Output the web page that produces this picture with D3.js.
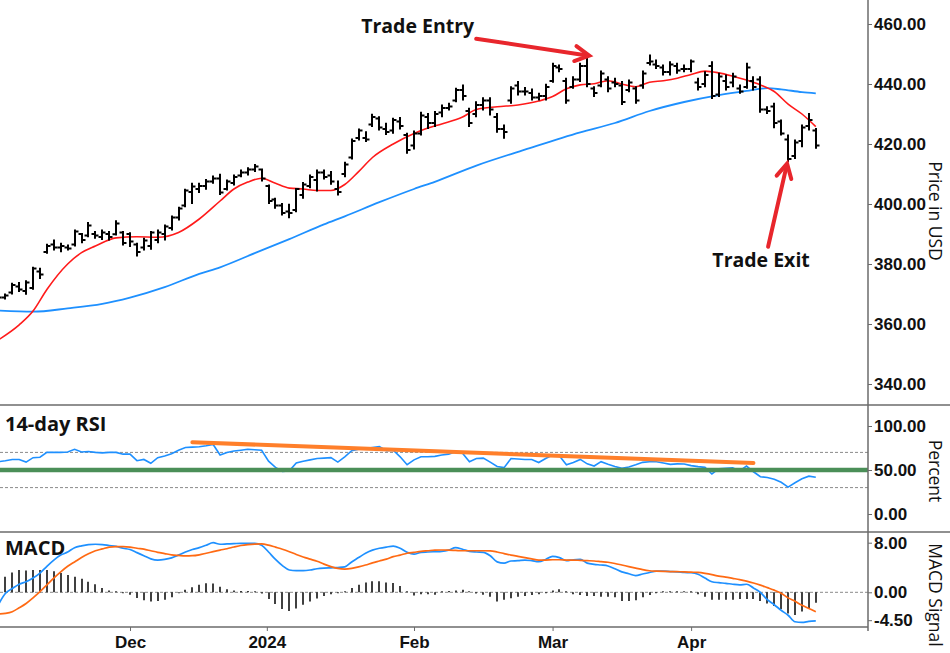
<!DOCTYPE html>
<html><head><meta charset="utf-8">
<script src="https://cdn.jsdelivr.net/npm/d3@7"></script>
<style>
html,body{margin:0;padding:0;background:#fff;}
svg{display:block;}
</style></head><body>
<svg id="chart" width="950" height="653"></svg>
<script>
// ---------- DATA ----------
const monthTicks = [19, 38.75, 60, 80, 100];
const monthLabels = ["Dec", "2024", "Feb", "Mar", "Apr"];
const priceTicks = [340, 360, 380, 400, 420, 440, 460];
const rsiTicks = [0, 50, 100];
const macdTicks = [-4.5, 0, 8];

const open = [368,368.8,370.5,372.5,371,372,377.5,384,386.5,385.5,
385.5,386.5,390,389.5,390,389,390,389.9,390.5,390,
386.5,385.5,386,388,390,392,395.5,399.5,404,405,
406,407.5,408.5,405,407,409.5,410.5,411.5,411.5,406,
401.5,399.5,397.5,398,403,406,408,410.5,409.5,405,
410,415.5,422,422,426.5,428.5,425,424.5,427.5,423,
419.5,423.5,429,427,430.5,432,434.5,438,431,430,
433,434.5,429,425,434.5,439.5,437.5,437,435.5,436,
441,445.5,441,439,441.5,446,438.5,439.5,441.5,440.5,
439.5,438,438.5,439.5,447,446.5,445.5,444,446,445,
445,440.5,440,446,436.5,441,440.5,438.5,439,441,
441.5,431.5,432.5,427.5,421.5,416,421,426,424.5];
const close = [368.8,369.5,373,371.5,373.8,378.5,376.5,386,385.5,386,
385.2,390.8,388,392.8,389.5,390.5,389,393.5,387,387.5,
384,387.8,390.5,390.5,392.5,395.5,398.5,404.5,405.8,406,
407.5,408.5,403.8,407.5,409,410.5,411.5,412.5,408.5,401,
399.5,397,397,405,406.5,409,410.5,409,407.5,404,
413.2,421,424.5,421.5,429,425.5,424,428,426,418,
423.5,429.5,427,430,432,432.5,438,436,427,433,
434.5,431.5,425,424,438.5,437.5,437.5,435.5,436,439,
446,445,434.5,441.5,446,440,437,443.5,438.5,440,
434,440.5,434.5,443.5,447.5,446,444,446.5,444.5,445,
447.5,439,443,436,442.5,439,442.5,437.5,445.5,439,
431.5,431,427,423.5,415,420.5,425.5,428,419.5];
const high = [369.1,370,373.6,373.8,374.4,378.9,378.6,386.6,388,386.9,
386.3,391.3,390.2,393.8,390.8,391.3,390.8,394.4,390.8,390.4,
386.9,388.6,390.8,391.3,393,396,398.9,404.9,406.9,406.9,
408.2,409.3,409.9,408,409.7,411.3,412.1,413.2,411.7,406.3,
401.9,400.2,399.9,405.2,407.2,409.7,411.3,411.3,410.8,407.7,
413.9,421.7,425,424.1,429.9,429.1,426.9,428.6,428.8,423.6,
424.3,430.6,430.2,430.8,433,433.6,438.6,439.7,431.9,434.1,
435.4,435.4,430.2,426.3,439.1,440.8,438.8,438.3,436.9,439.9,
446.9,446.3,441.9,442.4,446.9,449.1,439.1,444.3,442.4,441.9,
440.8,441.3,439.1,444.3,449.7,448,446.3,447.4,446.9,446.3,
448,441.9,444.1,447.4,443.6,443,443.6,439.7,446.9,442.4,
442.4,432.4,433.6,428,423,421.3,426.3,430.2,425.2];
const low = [367.4,368.3,370,370.8,369.9,371.6,375.2,383.6,384.7,384.1,
384.7,386,387.1,389.1,388.6,388.2,388,389.7,386.3,385.8,
382.7,384.7,384.9,387.1,388,391.3,394.7,399.1,400.2,403.8,
404.9,406.9,403.2,404.7,406.3,409.1,409.7,410.8,407.7,400.2,
398.6,396.3,395.4,397.4,401.9,405.4,404.3,408.3,406.6,403,
409.1,415,421.3,420.8,425.8,424.7,423.2,423.6,425,416.9,
418.3,423,425.2,425.8,429.1,431.3,434.1,434.7,425.8,429.1,
431.3,429.7,423.9,421.9,433.6,436.3,436.3,434.7,434.7,434.7,
440.6,444.1,433.6,438.6,440.8,439.1,435.8,439.1,437.4,439.1,
433.2,437.4,433.6,438.6,446.3,445.2,443,443,443.6,444.1,
444.1,438,439.1,435.2,435.8,438,439.1,436.9,438.6,438,
430.6,430.2,425.4,423,414.1,415.2,419.1,424.7,418.6];

// moving averages (read at sampled bar indices)
const smaFastIdx = [0,3,5,7,10,12,14,17,20,23,26,29,32,34,36,38,40,42,44,46,48,50,52,54,57,60,62,64,67,69,72,75,78,80,82,84,86,88,90,92,94,96,98,100,102,104,106,108,110,112,114,116,118];
const smaFast = [354.7,359.7,364.3,371.5,380,383.8,386,388.7,389.1,388.9,390.5,395,401,405,407.3,408.6,406.9,405.3,405,404.5,404.5,406.5,410.8,415.5,420,423.5,425.3,426.7,429,431.5,432.4,433,434.3,435.8,438.4,439.7,440.1,441.1,440,439.1,440.6,441.1,441.9,443.2,444.3,443.7,442.6,441.3,439.7,437.5,433.3,430,425.8];
const smaSlowIdx = [0,5,10,15,19,24,29,32,37,42,47,50,55,60,63,69,76,84,89,94,99,104,108,111,113,116,118];
const smaSlow = [364.5,364.1,365.2,366.7,368.8,372.3,376.7,378.9,383.6,388.3,393.2,395.9,400.6,405,407.4,412.8,418.1,423.9,427,431,434,436.3,437.7,438.6,438.2,437.3,436.9];

const rsi = [59.5,60.5,62,62,59,64,64.5,70,70,70,
70.5,73.5,70.5,71,70,69.5,70,70,68,68,
60.6,62,57.6,64,66,68.5,72.5,75.5,76,76.5,
77.5,79,67,70,71.5,72.5,73.5,73,72.5,60,
53,48.5,49,58,60,61.5,63,63.5,64,59,
65,72,73.5,74.5,75.5,76.5,72,72.5,65,56,
61.5,65,65,65.5,67,68,70.8,69,59.4,63,
63.5,59,54,52.7,63,62.5,62,62,58.5,63,
67,66,56,58.5,62,57,54.5,59.5,56.5,54,
52,53.5,56,58.7,59.4,59.4,58,56.4,57,56.8,
55,53.8,53,45.5,51.5,52,52.5,49,54.5,48,
42.4,41.5,39.5,36,30.5,35.5,40,43,41.7];
const rsiBands = [30, 70];
const rsiSupport = 50;
const rsiTrendIdx = [28, 109];
const rsiTrend = [81.5, 58];

const macd = [-2.0,-0.2,0.6,1.3,1.7,2.3,3.1,4.2,5.2,6.0,
6.5,7.2,7.5,7.7,7.75,7.7,7.55,7.4,7.1,6.9,
6.4,5.9,5.4,5.2,5.3,5.55,6.0,6.5,6.9,7.2,
7.6,8.0,7.75,7.8,7.85,7.9,7.9,7.9,7.6,6.5,
5.3,4.3,3.6,3.5,3.5,3.6,3.8,3.9,3.95,4.0,
4.1,4.9,5.6,6.3,6.8,7.1,7.3,7.45,7.1,6.45,
6.15,6.45,6.5,6.55,6.6,6.8,7.2,6.95,6.6,6.5,
6.45,5.9,4.9,4.7,5.05,5.1,5.2,5.1,4.95,5.3,
5.8,5.6,5.1,5.25,5.3,4.7,4.5,4.4,4.25,3.8,
3.3,3.0,2.7,2.95,3.2,3.4,3.4,3.35,3.3,3.2,
3.15,2.9,2.3,1.7,1.55,1.45,1.3,1.2,1.3,0.7,
0.0,-1.2,-2.0,-2.9,-3.7,-4.75,-4.85,-4.7,-4.6];
const signal = [-3.5,-3.4,-3.13,-2.5,-1.8,-0.9,0.1,1.2,2.3,3.3,
4.2,4.9,5.6,6.2,6.7,7.0,7.3,7.38,7.38,7.3,
7.1,6.95,6.7,6.45,6.25,6.05,5.95,5.87,5.9,6.05,
6.3,6.55,6.8,7.03,7.3,7.55,7.7,7.78,7.8,7.6,
7.28,6.95,6.55,6.1,5.7,5.35,5.0,4.55,4.15,3.85,
3.75,3.85,4.1,4.4,4.75,5.05,5.35,5.75,6.0,6.3,
6.45,6.6,6.7,6.8,6.82,6.8,6.75,6.7,6.7,6.7,
6.7,6.68,6.5,6.25,6.0,5.8,5.6,5.4,5.2,5.2,
5.25,5.25,5.2,5.2,5.15,5.1,5.05,4.95,4.85,4.65,
4.4,4.15,3.9,3.65,3.48,3.42,3.38,3.35,3.32,3.3,
3.25,3.2,3.05,2.85,2.6,2.45,2.25,2.05,1.8,1.5,
1.15,0.75,0.35,-0.15,-0.9,-1.45,-2.1,-2.6,-3.13];
const hist = [1.8,2.5,3.2,3.6,3.5,3.6,3.6,3.6,3.4,3.1,
2.8,2.5,2.2,1.7,1.3,0.7,0.3,0.05,-0.15,-0.4,
-0.9,-1.3,-1.5,-1.4,-1.2,-0.8,-0.1,0.4,0.8,1.2,
1.45,1.4,0.9,0.5,0.3,0.2,0.2,0.1,-0.2,-1.1,
-1.9,-2.7,-3.0,-2.6,-2.0,-1.5,-1.0,-0.6,-0.3,-0.1,
0.1,0.7,1.2,1.6,1.8,1.8,1.6,1.5,1.0,0.1,
-0.5,-0.3,-0.3,-0.4,0.1,0.2,0.3,0.4,0.1,-0.2,
-0.4,-0.7,-1.5,-1.2,-0.95,-0.7,-0.6,-0.45,-0.3,-0.15,
0.3,0.5,0.1,-0.3,-0.45,-0.6,-0.6,-0.7,-0.7,-0.8,
-1.4,-1.4,-1.3,-0.8,-0.45,-0.1,0,0,0.1,0,
0,-0.3,-0.7,-1.2,-1.2,-1.2,-1.2,-1.1,-1.1,-1.1,
-1.4,-1.8,-2.2,-2.7,-3.4,-3.65,-3.1,-2.6,-1.7];

const entryIdx = 85, exitIdx = 114;

// ---------- LAYOUT ----------
const R = 868;
const svg = d3.select("#chart");
const x = d3.scaleLinear().domain([0, 118]).range([-1.6, 815.8]);
const yP = d3.scaleLinear().domain([340, 460]).range([384, 24]);
const yR = d3.scaleLinear().domain([0, 100]).range([514, 426]);
const yM = d3.scaleLinear().domain([0, 8]).range([592.3, 542.7]);
const loc = d3.formatLocale({decimal: ".", thousands: ",", grouping: [3], currency: ["$", ""], minus: "-"});
const f2 = loc.format(".2f");

const defs = svg.append("defs");
[["cp", 0, 405], ["cr", 405, 532], ["cm", 532, 627]].forEach(([id, a, b]) => {
  defs.append("clipPath").attr("id", id).append("rect").attr("x", 0).attr("y", a).attr("width", R).attr("height", b - a);
});

const BLUE = "#1e90ff", RED = "#ff1a1a", ORANGE = "#ff6a13", ARROW = "#e8262c";

// ---------- PRICE PANEL ----------
const gp = svg.append("g").attr("clip-path", "url(#cp)");
const lineIdx = (ys) => d3.line().x(d => x(d[0])).y(d => ys(d[1])).curve(d3.curveMonotoneX);
gp.append("path").datum(smaSlowIdx.map((d, i) => [d, smaSlow[i]]))
  .attr("d", lineIdx(yP)).attr("fill", "none").attr("stroke", BLUE).attr("stroke-width", 1.8);
gp.append("path").datum(smaFastIdx.map((d, i) => [d, smaFast[i]]))
  .attr("d", lineIdx(yP)).attr("fill", "none").attr("stroke", RED).attr("stroke-width", 1.6);
gp.append("g").selectAll("path").data(d3.range(open.length)).join("path")
  .attr("d", i => {
    const cx = Math.round(x(i));
    return `M${cx},${yP(high[i]) - 0.5}V${yP(low[i]) + 0.5}M${cx - 3.5},${yP(open[i])}H${cx}M${cx},${yP(close[i])}H${cx + 3.5}`;
  })
  .attr("fill", "none").attr("stroke", "#000").attr("stroke-width", 2);

// ---------- RSI PANEL ----------
const gr = svg.append("g").attr("clip-path", "url(#cr)");
gr.selectAll("line.band").data(rsiBands).join("line").attr("class", "band")
  .attr("x1", 0).attr("x2", R).attr("y1", d => yR(d)).attr("y2", d => yR(d))
  .attr("stroke", "#8a8a8a").attr("stroke-width", 1).attr("stroke-dasharray", "3,2");
gr.append("path").datum(rsi).attr("d", d3.line().x((d, i) => x(i)).y(d => yR(d)))
  .attr("fill", "none").attr("stroke", BLUE).attr("stroke-width", 1.6);
gr.append("line").attr("x1", 0).attr("x2", R).attr("y1", yR(rsiSupport)).attr("y2", yR(rsiSupport))
  .attr("stroke", "#4b8f58").attr("stroke-width", 4.5);
gr.append("path").datum(rsiTrendIdx.map((d, i) => [d, rsiTrend[i]]))
  .attr("d", d3.line().x(d => x(d[0])).y(d => yR(d[1])))
  .attr("stroke", "#ff7f2a").attr("stroke-width", 4).attr("stroke-linecap", "round").attr("fill", "none");

// ---------- MACD PANEL ----------
const gm = svg.append("g").attr("clip-path", "url(#cm)");
gm.append("line").attr("x1", 0).attr("x2", R).attr("y1", yM(0)).attr("y2", yM(0))
  .attr("stroke", "#8a8a8a").attr("stroke-width", 1).attr("stroke-dasharray", "3,2");
gm.append("g").selectAll("line").data(hist).join("line")
  .attr("x1", (d, i) => Math.round(x(i))).attr("x2", (d, i) => Math.round(x(i)))
  .attr("y1", yM(0)).attr("y2", d => Math.abs(yM(d) - yM(0)) < 1 ? yM(0) - (d >= 0 ? 1 : -1) : yM(d))
  .attr("stroke", "#000").attr("stroke-width", 1.5);
gm.append("path").datum(macd).attr("d", d3.line().x((d, i) => x(i)).y(d => yM(d)).curve(d3.curveMonotoneX))
  .attr("fill", "none").attr("stroke", BLUE).attr("stroke-width", 1.7);
gm.append("path").datum(signal).attr("d", d3.line().x((d, i) => x(i)).y(d => yM(d)).curve(d3.curveMonotoneX))
  .attr("fill", "none").attr("stroke", ORANGE).attr("stroke-width", 1.7);

// ---------- FRAME ----------
const frame = svg.append("g").attr("stroke", "#6b6b6b").attr("stroke-width", 1.5);
frame.append("line").attr("x1", 0).attr("x2", 950).attr("y1", 405).attr("y2", 405);
frame.append("line").attr("x1", 0).attr("x2", 950).attr("y1", 532).attr("y2", 532);
frame.append("line").attr("x1", 0).attr("x2", R).attr("y1", 627).attr("y2", 627);
frame.append("line").attr("x1", R).attr("x2", R).attr("y1", 0).attr("y2", 631);

// ---------- AXES ----------
const tickFont = "bold 17px 'Liberation Sans', Arial, sans-serif";
function styleAxis(g) {
  g.select(".domain").remove();
  g.selectAll(".tick line").attr("stroke", "#6b6b6b").attr("stroke-width", 1);
  g.selectAll(".tick text").style("font", tickFont).attr("fill", "#111");
}
svg.append("g").attr("transform", `translate(${R},0)`)
  .call(d3.axisRight(yP).tickValues(priceTicks).tickFormat(f2).tickSize(4).tickPadding(2)).call(styleAxis);
svg.append("g").attr("transform", `translate(${R},0)`)
  .call(d3.axisRight(yR).tickValues(rsiTicks).tickFormat(f2).tickSize(4).tickPadding(2)).call(styleAxis);
svg.append("g").attr("transform", `translate(${R},0)`)
  .call(d3.axisRight(yM).tickValues(macdTicks).tickFormat(f2).tickSize(4).tickPadding(2)).call(styleAxis);
svg.append("g").attr("transform", `translate(0,627)`)
  .call(d3.axisBottom(x).tickValues(monthTicks).tickFormat((d, i) => monthLabels[i]).tickSize(4).tickPadding(5)).call(styleAxis);

// axis titles
const titleFont = "17.5px 'Open Sans', 'Noto Sans', sans-serif";
[["Price in USD", 211], ["Percent", 471], ["MACD Signal", 595]].forEach(([t, cy]) => {
  svg.append("text").attr("transform", `translate(929,${cy}) rotate(90)`)
    .attr("text-anchor", "middle").style("font", titleFont).attr("fill", "#111").text(t);
});

// panel labels
const labFont = "bold 20px 'Open Sans', 'Noto Sans', sans-serif";
svg.append("text").attr("x", 5).attr("y", 431).style("font", labFont).attr("fill", "#111").text("14-day RSI");
svg.append("text").attr("x", 5).attr("y", 555).style("font", labFont).attr("fill", "#111").text("MACD");

// ---------- ANNOTATIONS ----------
function arrow(tail, tip) {
  const dx = tip[0] - tail[0], dy = tip[1] - tail[1], L = Math.hypot(dx, dy);
  const ux = dx / L, uy = dy / L, nx = -uy, ny = ux;
  const hl = 14, hw = 7.5;
  const g = svg.append("g").attr("stroke", ARROW).attr("fill", "none").attr("stroke-width", 4).attr("stroke-linecap", "round").attr("stroke-linejoin", "miter");
  g.append("line").attr("x1", tail[0]).attr("y1", tail[1]).attr("x2", tip[0] - ux * 2).attr("y2", tip[1] - uy * 2);
  g.append("path").attr("d", `M${tip[0] - ux * hl + nx * hw},${tip[1] - uy * hl + ny * hw}L${tip[0]},${tip[1]}L${tip[0] - ux * hl - nx * hw},${tip[1] - uy * hl - ny * hw}`);
}
const annFont = "bold 19.5px 'Open Sans', 'Noto Sans', sans-serif";
const entryTip = [x(entryIdx) + 2, yP(high[entryIdx]) - 1];
const entryTail = [entryTip[0] - 113, entryTip[1] - 17];
arrow(entryTail, entryTip);
svg.append("text").attr("x", entryTail[0] - 2).attr("y", entryTail[1] - 6).attr("text-anchor", "end")
  .style("font", annFont).attr("fill", "#111").text("Trade Entry");
const exitTip = [x(exitIdx) - 1, yP(low[exitIdx]) + 2];
const exitTail = [exitTip[0] - 19, exitTip[1] + 83];
arrow(exitTail, exitTip);
svg.append("text").attr("x", exitTail[0] - 7).attr("y", exitTail[1] + 20).attr("text-anchor", "middle")
  .style("font", annFont).attr("fill", "#111").text("Trade Exit");
</script>
</body></html>
